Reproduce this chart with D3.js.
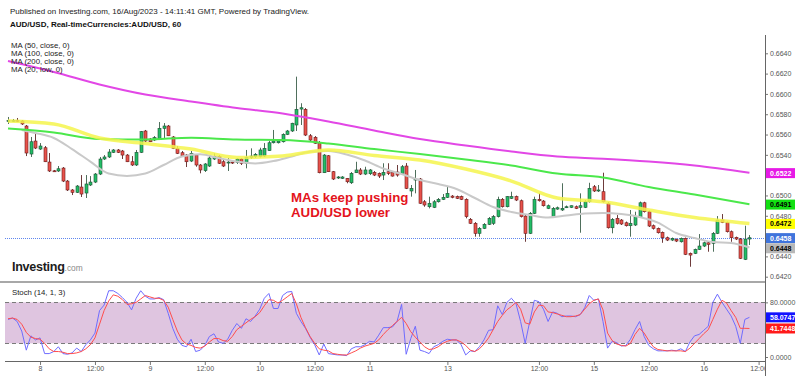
<!DOCTYPE html>
<html>
<head>
<meta charset="utf-8">
<script src="https://cdn.jsdelivr.net/npm/d3@7"></script>
<style>
body{margin:0;background:#fff;}
svg text{font-family:"Liberation Sans",Arial,sans-serif;}
</style>
</head>
<body>
<div id="chart"></div>
<script>
// AUD/USD hourly candles
var opens = [0.65733,0.65733,0.65738,0.65733,0.65684,0.65408,0.65536,0.65457,0.65470,0.65329,
	0.65243,0.65241,0.65270,0.65142,0.65054,0.65031,0.65083,0.65024,0.65103,0.65132,
	0.65211,0.65359,0.65379,0.65425,0.65448,0.65438,0.65398,0.65332,0.65300,0.65425,
	0.65635,0.65556,0.65546,0.65556,0.65661,0.65684,0.65576,0.65464,0.65421,0.65398,
	0.65339,0.65398,0.65300,0.65244,0.65290,0.65359,0.65382,0.65332,0.65326,0.65329,
	0.65326,0.65359,0.65317,0.65376,0.65382,0.65382,0.65388,0.65441,0.65519,0.65519,
	0.65529,0.65602,0.65635,0.65694,0.65851,0.65848,0.65588,0.65573,0.65519,0.65224,
	0.65391,0.65234,0.65172,0.65169,0.65169,0.65125,0.65224,0.65251,0.65211,0.65214,
	0.65228,0.65218,0.65201,0.65234,0.65228,0.65231,0.65218,0.65290,0.65044,0.65152,
	0.65162,0.64938,0.64889,0.64883,0.64938,0.64962,0.64982,0.64994,0.64988,0.64988,
	0.64962,0.64765,0.64726,0.64627,0.64676,0.64716,0.64726,0.64791,0.64962,0.64889,
	0.64972,0.64988,0.64948,0.64797,0.64627,0.64824,0.64962,0.64945,0.64873,0.64791,
	0.64866,0.64857,0.64886,0.64883,0.64889,0.64883,0.64883,0.64938,0.65086,0.65044,
	0.65037,0.64923,0.64682,0.64775,0.64758,0.64731,0.64702,0.64709,0.64785,0.64928,
	0.64840,0.64702,0.64676,0.64637,0.64584,0.64561,0.64568,0.64544,0.64578,0.64430,
	0.64430,0.64469,0.64502,0.64534,0.64529,0.64627,0.64758,0.64735,0.64643,0.64588,
	0.64571,0.64371,0.64571];
var highs = [0.65773,0.65753,0.65763,0.65743,0.65694,0.65576,0.65605,0.65516,0.65487,0.65418,
	0.65251,0.65290,0.65280,0.65152,0.65063,0.65103,0.65201,0.65201,0.65191,0.65221,
	0.65379,0.65398,0.65457,0.65457,0.65457,0.65448,0.65408,0.65388,0.65448,0.65635,
	0.65645,0.65566,0.65585,0.65723,0.65713,0.65694,0.65585,0.65487,0.65438,0.65408,
	0.65438,0.65408,0.65310,0.65319,0.65398,0.65415,0.65398,0.65349,0.65369,0.65349,
	0.65369,0.65369,0.65448,0.65464,0.65418,0.65470,0.65516,0.65536,0.65645,0.65546,
	0.65612,0.65645,0.65716,0.66170,0.65908,0.65861,0.65605,0.65585,0.65536,0.65408,
	0.65398,0.65241,0.65191,0.65191,0.65172,0.65231,0.65332,0.65270,0.65283,0.65260,
	0.65241,0.65226,0.65317,0.65317,0.65241,0.65300,0.65300,0.65319,0.65103,0.65251,
	0.65172,0.64955,0.64988,0.64955,0.64975,0.65014,0.65086,0.65004,0.64999,0.64999,
	0.64972,0.64778,0.64738,0.64689,0.64728,0.64788,0.64807,0.64988,0.64975,0.64994,
	0.65037,0.64999,0.64960,0.64807,0.64837,0.64988,0.65021,0.64955,0.64911,0.64886,
	0.64891,0.65120,0.64901,0.64901,0.64901,0.65021,0.64955,0.65125,0.65103,0.65103,
	0.65224,0.64935,0.64778,0.64807,0.64768,0.64743,0.64857,0.64840,0.64940,0.64938,
	0.64852,0.64714,0.64684,0.64645,0.64595,0.64586,0.64576,0.64586,0.64586,0.64438,
	0.64477,0.64620,0.64546,0.64546,0.64640,0.64797,0.64817,0.64743,0.64655,0.64595,
	0.64581,0.64702,0.64610];
var lows = [0.65704,0.65723,0.65723,0.65694,0.65388,0.65379,0.65457,0.65448,0.65329,0.65231,
	0.65231,0.65231,0.65132,0.65044,0.65004,0.65024,0.64985,0.64975,0.65093,0.65122,
	0.65201,0.65349,0.65369,0.65418,0.65418,0.65359,0.65329,0.65290,0.65290,0.65418,
	0.65526,0.65526,0.65536,0.65546,0.65566,0.65585,0.65457,0.65408,0.65379,0.65280,
	0.65329,0.65283,0.65218,0.65231,0.65280,0.65349,0.65310,0.65280,0.65241,0.65310,
	0.65310,0.65300,0.65267,0.65359,0.65369,0.65374,0.65379,0.65438,0.65512,0.65512,
	0.65521,0.65595,0.65625,0.65635,0.65694,0.65585,0.65529,0.65507,0.65218,0.65221,
	0.65231,0.65152,0.65162,0.65162,0.65120,0.65113,0.65221,0.65201,0.65201,0.65201,
	0.65191,0.65172,0.65152,0.65201,0.65186,0.65185,0.65211,0.65063,0.64988,0.65021,
	0.64916,0.64889,0.64873,0.64876,0.64930,0.64955,0.64975,0.64972,0.64965,0.64955,
	0.64775,0.64719,0.64594,0.64594,0.64669,0.64709,0.64709,0.64783,0.64881,0.64883,
	0.64965,0.64945,0.64783,0.64544,0.64620,0.64817,0.64940,0.64891,0.64866,0.64783,
	0.64859,0.64847,0.64876,0.64876,0.64866,0.64633,0.64876,0.64930,0.65034,0.65034,
	0.64930,0.64674,0.64627,0.64714,0.64709,0.64694,0.64594,0.64699,0.64778,0.64832,
	0.64689,0.64664,0.64625,0.64534,0.64551,0.64551,0.64541,0.64536,0.64413,0.64298,
	0.64423,0.64463,0.64492,0.64446,0.64446,0.64620,0.64728,0.64635,0.64544,0.64561,
	0.64374,0.64364,0.64512];
var closes = [0.65738,0.65738,0.65733,0.65704,0.65418,0.65529,0.65467,0.65487,0.65332,0.65241,
	0.65236,0.65263,0.65142,0.65054,0.65031,0.65093,0.65014,0.65113,0.65132,0.65211,
	0.65359,0.65379,0.65428,0.65448,0.65425,0.65398,0.65332,0.65300,0.65425,0.65628,
	0.65536,0.65529,0.65569,0.65661,0.65684,0.65588,0.65464,0.65415,0.65388,0.65332,
	0.65415,0.65300,0.65251,0.65310,0.65369,0.65382,0.65317,0.65290,0.65329,0.65324,
	0.65359,0.65317,0.65376,0.65388,0.65405,0.65448,0.65464,0.65519,0.65536,0.65536,
	0.65602,0.65635,0.65711,0.65848,0.65864,0.65595,0.65546,0.65514,0.65224,0.65398,
	0.65234,0.65162,0.65182,0.65182,0.65135,0.65218,0.65251,0.65211,0.65251,0.65251,
	0.65201,0.65191,0.65228,0.65218,0.65191,0.65201,0.65283,0.65070,0.65070,0.65162,
	0.64923,0.64906,0.64923,0.64938,0.64962,0.64982,0.65021,0.64982,0.64972,0.64962,
	0.64791,0.64726,0.64627,0.64676,0.64716,0.64775,0.64791,0.64962,0.64889,0.64988,
	0.64988,0.64955,0.64791,0.64627,0.64824,0.64962,0.64948,0.64899,0.64899,0.64873,
	0.64879,0.64873,0.64889,0.64899,0.64873,0.64899,0.64938,0.65070,0.65044,0.65054,
	0.64938,0.64682,0.64765,0.64726,0.64719,0.64702,0.64726,0.64791,0.64928,0.64840,
	0.64699,0.64676,0.64633,0.64584,0.64561,0.64578,0.64551,0.64578,0.64420,0.64413,
	0.64469,0.64502,0.64534,0.64519,0.64627,0.64758,0.64735,0.64643,0.64584,0.64571,
	0.64381,0.64571,0.64584];

// moving averages, sampled at bar positions
var maIdx = [0,10,20,30,40,50,60,70,80,90,100,110,120,130,140,150,162];
var ma200 = [0.66324,0.66216,0.66093,0.65994,0.65925,0.65861,0.65807,0.65728,0.65640,0.65556,
	0.65492,0.65433,0.65384,0.65362,0.65334,0.65295,0.65224];
var ma100 = [0.65659,0.65620,0.65556,0.65551,0.65569,0.65551,0.65546,0.65512,0.65457,0.65408,
	0.65354,0.65295,0.65216,0.65177,0.65083,0.65009,0.64913];
var ma50 = [0.65733,0.65704,0.65566,0.65512,0.65457,0.65374,0.65389,0.65448,0.65393,0.65349,
	0.65260,0.65142,0.64975,0.64938,0.64857,0.64783,0.64724];
var ma20Idx = [3,6,10,14,18,22,26,30,34,38,42,46,50,54,58,62,66,70,74,78,82,86,90,94,98,
	102,106,110,114,118,122,126,130,134,138,142,146,150,154,158,162];
var ma20 = [0.65645,0.65615,0.65566,0.65457,0.65334,0.65216,0.65192,0.65216,0.65300,0.65384,
	0.65405,0.65369,0.65334,0.65315,0.65339,0.65384,0.65431,0.65438,0.65403,0.65344,0.65265,
	0.65211,0.65152,0.65113,0.65064,0.64975,0.64886,0.64837,0.64807,0.64783,0.64802,0.64822,
	0.64827,0.64817,0.64788,0.64733,0.64630,0.64581,0.64541,0.64531,0.64487];

// stochastic %K and %D
var stochK = [55,57,52,38,10,31,25,28,5,5, 8,15,5,4,6,13,8,18,25,35,
	68,76,97,97,93,87,80,69,86,97, 89,85,85,87,84,64,42,26,17,15,
	26,8,10,17,30,34,22,20,26,39, 49,42,56,52,60,70,86,93,71,71,
	90,95,96,64,52,42,29,18,3,19, 5,4,3,3,2,12,15,15,18,23,
	22,32,43,43,44,52,77,4,27,45, 10,8,5,15,18,23,26,25,25,18,
	3,9,8,15,25,39,40,75,62,80, 86,78,52,20,52,83,81,70,52,66,
	64,59,60,60,59,62,72,90,83,85, 52,13,23,21,16,17,26,40,52,30,
	17,12,9,9,9,10,9,12,8,22, 31,33,39,45,80,92,80,70,60,45,
	20,55,58.0747];
var stochD = [56,57,55,48,36,29,27,26,20,12, 8,8,7,5,5,6,8,12,18,28,
	48,68,82,91,89,84,77,78,80,85, 90,88,86,86,83,73,55,38,25,19,
	17,14,13,16,22,27,27,24,23,30, 40,45,50,55,59,65,75,84,83,79,
	83,88,93,78,58,43,30,20,12,10, 9,5,4,3,3,6,9,13,16,18,
	20,25,33,40,46,52,58,49,37,29, 22,15,11,12,15,20,23,25,25,22,
	17,10,8,12,19,28,40,52,61,69, 74,80,70,50,48,66,76,75,66,65,
	63,61,59,59,60,62,70,78,83,85, 69,35,24,19,17,16,20,33,42,35,
	24,15,11,10,9,9,9,9,8,13, 20,27,34,40,55,70,83,79,68,58,
	42,42,41.7448];

var timeTickIdx = [7,19,31,43,55,67,79,96,116,128,140,152,164];
var timeTickLabels = ['8','12:00','9','12:00','10','12:00','11','13','12:00','15','12:00','16','12:00'];
// 0.6460 and 0.6520 sit under the value tags, so they are not shown
var priceTicks = [0.6420,0.6440,0.6480,0.6500,0.6540,0.6560,0.6580,0.6600,0.6620,0.6640];
var stochTicks = [0,80];

(function () {
	'use strict';
	var axisX = 765;
	var svg = d3.select('#chart').append('svg')
		.attr('width', 800).attr('height', 376);

	var x = d3.scaleLinear().domain([0, 164]).range([8, 758.6]);
	var y = d3.scaleLinear().domain([0.6420, 0.6640]).range([276.7, 53.3]);
	var ys = d3.scaleLinear().domain([0, 100]).range([357, 288.7]);

	var defs = svg.append('defs');
	defs.append('clipPath').attr('id', 'mainClip').append('rect')
		.attr('x', 0).attr('y', 30).attr('width', axisX).attr('height', 251);
	defs.append('clipPath').attr('id', 'stochClip').append('rect')
		.attr('x', 0).attr('y', 283).attr('width', axisX).attr('height', 78);

	// header texts
	svg.append('text').attr('x', 10).attr('y', 14).attr('font-size', 8).attr('fill', '#222')
		.text('Published on Investing.com, 16/Aug/2023 - 14:11:41 GMT, Powered by TradingView.');
	svg.append('text').attr('x', 10).attr('y', 27).attr('font-size', 8).attr('font-weight', 'bold').attr('fill', '#111')
		.text('AUD/USD, Real-timeCurrencies:AUD/USD, 60');

	var main = svg.append('g').attr('clip-path', 'url(#mainClip)');

	// last price dotted line
	var lastY = Math.round(y(closes[closes.length - 1])) + 0.5;
	main.append('line')
		.attr('x1', 5).attr('x2', axisX).attr('y1', lastY).attr('y2', lastY)
		.attr('stroke', '#5f86ee').attr('stroke-width', 1).attr('stroke-dasharray', '1,1');

	var idx = d3.range(opens.length);
	var candles = main.append('g').selectAll('g').data(idx).enter().append('g');
	candles.append('line')
		.attr('x1', function (i) { return Math.round(x(i)) + 0.5; })
		.attr('x2', function (i) { return Math.round(x(i)) + 0.5; })
		.attr('y1', function (i) { return y(highs[i]); })
		.attr('y2', function (i) { return y(lows[i]); })
		.attr('stroke', function (i) { return closes[i] >= opens[i] ? '#4f6f5c' : '#6e3b3b'; })
		.attr('stroke-width', 1);
	candles.append('rect')
		.attr('x', function (i) { return Math.round(x(i)) - 1; })
		.attr('width', 3)
		.attr('y', function (i) { return y(Math.max(opens[i], closes[i])); })
		.attr('height', function (i) { return Math.max(1, Math.abs(y(opens[i]) - y(closes[i]))); })
		.attr('fill', function (i) { return closes[i] >= opens[i] ? '#22bd66' : '#e8524b'; })
		.attr('stroke', function (i) { return closes[i] >= opens[i] ? '#1f4f34' : '#6a1c1c'; })
		.attr('stroke-width', 0.6);

	function maLine(ix, vals, color, width, opacity) {
		var line = d3.line()
			.x(function (d, k) { return x(ix[k]); })
			.y(function (d) { return y(d); })
			.curve(d3.curveMonotoneX);
		main.append('path').datum(vals)
			.attr('fill', 'none').attr('stroke', color)
			.attr('stroke-width', width).attr('stroke-opacity', opacity)
			.attr('d', line);
	}
	maLine(ma20Idx, ma20, '#c9c9c9', 2, 1);
	maLine(maIdx, ma200, '#e247e6', 2, 1);
	maLine(maIdx, ma100, '#4be84b', 2, 1);
	maLine(maIdx, ma50, '#f4f44c', 3.5, 0.85);

	// legend
	var legend = ['MA (50, close, 0)', 'MA (100, close, 0)', 'MA (200, close, 0)', 'MA (20, low, 0)'];
	svg.append('g').selectAll('text').data(legend).enter().append('text')
		.attr('x', 11).attr('y', function (d, k) { return 47.5 + k * 8.3; })
		.attr('font-size', 7.8).attr('fill', '#222')
		.text(function (d) { return d; });

	// annotation
	var note = svg.append('text').attr('font-size', 13.3).attr('font-weight', 'bold').attr('fill', '#e4141c');
	note.append('tspan').attr('x', 291).attr('y', 201.5).text('MAs keep pushing');
	note.append('tspan').attr('x', 291).attr('y', 216.8).text('AUD/USD lower');

	// logo
	var logo = svg.append('text').attr('x', 12).attr('y', 270.8);
	logo.append('tspan').attr('font-size', 12.6).attr('font-weight', 'bold').attr('fill', '#1c1c1c')
		.attr('letter-spacing', -0.3).text('Investing');
	logo.append('tspan').attr('font-size', 8.4).attr('fill', '#8a8a8a').text('.com');

	// panel separator
	svg.append('line').attr('x1', 0).attr('x2', axisX).attr('y1', 282).attr('y2', 282)
		.attr('stroke', '#a8a8a8').attr('stroke-width', 2);

	// stochastic panel
	var stoch = svg.append('g').attr('clip-path', 'url(#stochClip)');
	stoch.append('rect').attr('x', 5).attr('width', axisX - 5)
		.attr('y', ys(80)).attr('height', ys(20) - ys(80))
		.attr('fill', '#dfc5e0');
	[80, 20].forEach(function (v) {
		stoch.append('line').attr('x1', 5).attr('x2', axisX)
			.attr('y1', Math.round(ys(v)) + 0.5).attr('y2', Math.round(ys(v)) + 0.5)
			.attr('stroke', '#7a7a7a').attr('stroke-width', 1).attr('stroke-dasharray', '4,3');
	});
	var sLine = d3.line()
		.x(function (d, k) { return x(k); })
		.y(function (d) { return ys(d); });
	stoch.append('path').datum(stochK).attr('fill', 'none')
		.attr('stroke', '#6f6cff').attr('stroke-width', 1).attr('d', sLine);
	stoch.append('path').datum(stochD).attr('fill', 'none')
		.attr('stroke', '#ff4d4d').attr('stroke-width', 1).attr('d', sLine);
	svg.append('text').attr('x', 12).attr('y', 294.5).attr('font-size', 7.8).attr('fill', '#222')
		.text('Stoch (14, 1, 3)');

	// axes
	var priceAxis = svg.append('g').attr('transform', 'translate(' + axisX + ',0)')
		.call(d3.axisRight(y).tickValues(priceTicks).tickFormat(d3.format('.4f')).tickSize(3).tickPadding(2));
	var stochAxis = svg.append('g').attr('transform', 'translate(' + axisX + ',0)')
		.call(d3.axisRight(ys).tickValues(stochTicks).tickFormat(d3.format('.4f')).tickSize(3).tickPadding(2));
	var timeAxis = svg.append('g').attr('transform', 'translate(0,362)')
		.call(d3.axisBottom(x).tickValues(timeTickIdx)
			.tickFormat(function (d, k) { return timeTickLabels[k]; }).tickSize(3).tickPadding(1));
	[priceAxis, stochAxis, timeAxis].forEach(function (g) {
		g.select('.domain').remove();
		g.selectAll('line').attr('stroke', '#777');
		g.selectAll('text').attr('font-size', 7).attr('fill', '#555')
			.attr('font-family', '"Liberation Sans",Arial,sans-serif');
	});
	// white cover right of axis so the last time label gets cut
	svg.append('rect').attr('x', axisX + 0.5).attr('y', 362).attr('width', 35).attr('height', 14).attr('fill', '#fff');
	svg.append('line').attr('x1', 5).attr('x2', axisX).attr('y1', 361.5).attr('y2', 361.5)
		.attr('stroke', '#666').attr('stroke-width', 1);
	svg.append('line').attr('x1', axisX + 0.5).attr('x2', axisX + 0.5).attr('y1', 35).attr('y2', 376)
		.attr('stroke', '#666').attr('stroke-width', 1);

	// value tags on the right
	function tag(yPos, txt, bg, fg) {
		svg.append('rect').attr('x', axisX + 1).attr('y', yPos - 5).attr('width', 29).attr('height', 10).attr('fill', bg);
		svg.append('text').attr('x', axisX + 5).attr('y', yPos + 2.5).attr('font-size', 7)
			.attr('font-weight', 'bold').attr('fill', fg).text(txt);
	}
	tag(y(0.6522), '0.6522', '#e619e6', '#fff');
	tag(y(0.6491), '0.6491', '#12e012', '#000');
	tag(y(0.6472), '0.6472', '#ffff00', '#000');
	tag(y(0.6458), '0.6458', '#3f74dc', '#fff');
	tag(y(0.6448), '0.6448', '#b8b8b8', '#000');
	tag(ys(58.0747), '58.0747', '#1212ff', '#fff');
	tag(ys(41.7448), '41.7448', '#ff1a1a', '#fff');
})();
</script>
</body>
</html>
